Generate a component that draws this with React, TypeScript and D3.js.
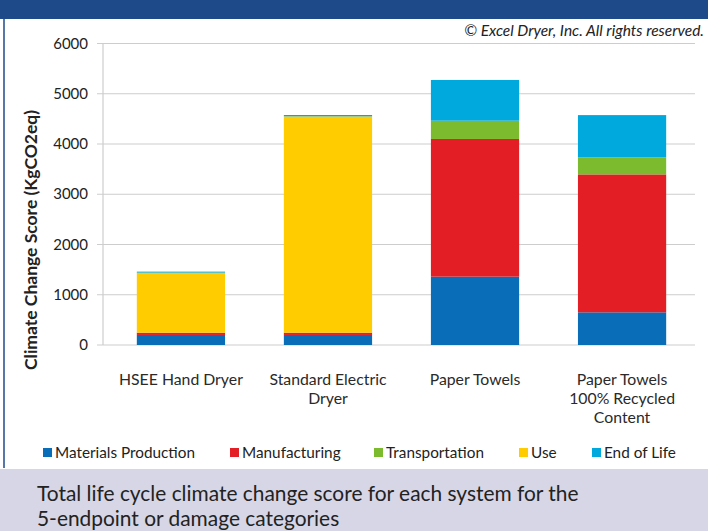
import React from "react";
import * as d3 from "d3";

// Systems compared on the x axis (multi-line labels)
const categories = ["HSEE Hand Dryer", "Standard Electric Dryer", "Paper Towels", "Paper Towels 100% Recycled"];
const categoryLines = [
  ["HSEE Hand Dryer"],
  ["Standard Electric", "Dryer"],
  ["Paper Towels"],
  ["Paper Towels", "100% Recycled", "Content"],
];

// Life cycle stages (stack order, bottom to top)
const seriesNames = ["Materials Production", "Manufacturing", "Transportation", "Use", "End of Life"];
const materialsProduction = [200, 200, 1360, 650];
const manufacturing = [45, 45, 2740, 2745];
const transportation = [0, 0, 364, 340];
const use = [1195, 4305, 0, 0];
const endOfLife = [20, 27, 810, 840];

const seriesColors = ["#0a6db8", "#e41e25", "#7dbb2e", "#ffcc00", "#00a9dd"];
const yTicks = [0, 1000, 2000, 3000, 4000, 5000, 6000];

const W = 708;
const H = 531;
const FONT = "Lato, 'Open Sans', sans-serif";

export default function App() {
  const seriesValues = [materialsProduction, manufacturing, transportation, use, endOfLife];
  const rows = categories.map((c, i) => {
    const r: Record<string, any> = { category: c };
    seriesNames.forEach((s, k) => (r[s] = seriesValues[k][i]));
    return r;
  });
  const stacked = d3.stack().keys(seriesNames)(rows as any);

  const x = d3.scaleBand<string>().domain(categories).range([103, 700]).paddingInner(0.4).paddingOuter(0.23);
  const y = d3.scaleLinear().domain([0, 6000]).range([345, 43.5]);

  const legendX = [43, 230, 374, 519, 592];

  return (
    <svg
      width={W}
      height={H}
      style={{ position: "absolute", left: 0, top: 0, display: "block" }}
      fontFamily={FONT}
    >
      <defs>
        <filter id="soft" x="-5%" y="-200%" width="110%" height="500%">
          <feGaussianBlur stdDeviation="1.2" />
        </filter>
      </defs>
      <rect x={0} y={0} width={W} height={H} fill="#ffffff" />
      {/* header band */}
      <rect x={0} y={0} width={W} height={19} fill="#1e4a8a" />
      {/* panel border */}
      <line x1={4} x2={4} y1={19} y2={468} stroke="#1e4a8a" strokeWidth={1.5} />

      {/* copyright */}
      <text x={704} y={36} textAnchor="end" fontSize={15.5} fontStyle="italic" fill="#222">
        © Excel Dryer, Inc. All rights reserved.
      </text>

      {/* gridlines */}
      {yTicks.map((t) => (
        <g key={t}>
          <line x1={97} x2={695} y1={y(t) + 2} y2={y(t) + 2} stroke="#e6e6e6" strokeWidth={2} filter="url(#soft)" />
          <line x1={97} x2={695} y1={y(t)} y2={y(t)} stroke="#cdcdcd" strokeWidth={1.2} />
          <text x={88} y={y(t) + 5} textAnchor="end" fontSize={15} fill="#222">
            {t}
          </text>
        </g>
      ))}
      <line x1={103} x2={103} y1={y(6000)} y2={y(0)} stroke="#cdcdcd" strokeWidth={1.2} />

      {/* y axis title */}
      <text
        transform={`translate(37,240) rotate(-90)`}
        textAnchor="middle"
        fontSize={17.5}
        fontWeight="bold"
        fill="#222"
      >
        Climate Change Score (KgCO2eq)
      </text>

      {/* stacked bars */}
      {stacked.map((layer, k) => (
        <g key={layer.key} fill={seriesColors[k]}>
          {layer.map((d, i) => {
            const h = y(d[0]) - y(d[1]);
            if (h <= 0) return null;
            return (
              <rect
                key={i}
                x={x(categories[i])}
                y={y(d[1])}
                width={x.bandwidth()}
                height={h}
              />
            );
          })}
        </g>
      ))}

      {/* category labels */}
      {categories.map((c, i) =>
        categoryLines[i].map((line, j) => (
          <text
            key={`${c}-${j}`}
            x={(x(c) as number) + x.bandwidth() / 2}
            y={385 + j * 19}
            textAnchor="middle"
            fontSize={15.8}
            fill="#2a2a2a"
          >
            {line}
          </text>
        ))
      )}

      {/* legend */}
      {seriesNames.map((s, k) => (
        <g key={s}>
          <rect x={legendX[k]} y={448} width={9} height={9} fill={seriesColors[k]} />
          <text x={legendX[k] + 12} y={458} fontSize={15.3} fill="#222">
            {s}
          </text>
        </g>
      ))}

      {/* caption band */}
      <rect x={0} y={469} width={W} height={H - 469} fill="#d6d6e6" />
      <text x={37} y={501} fontSize={20.9} fill="#222">
        Total life cycle climate change score for each system for the
      </text>
      <text x={37} y={526} fontSize={20.9} fill="#222">
        5-endpoint or damage categories
      </text>
    </svg>
  );
}
